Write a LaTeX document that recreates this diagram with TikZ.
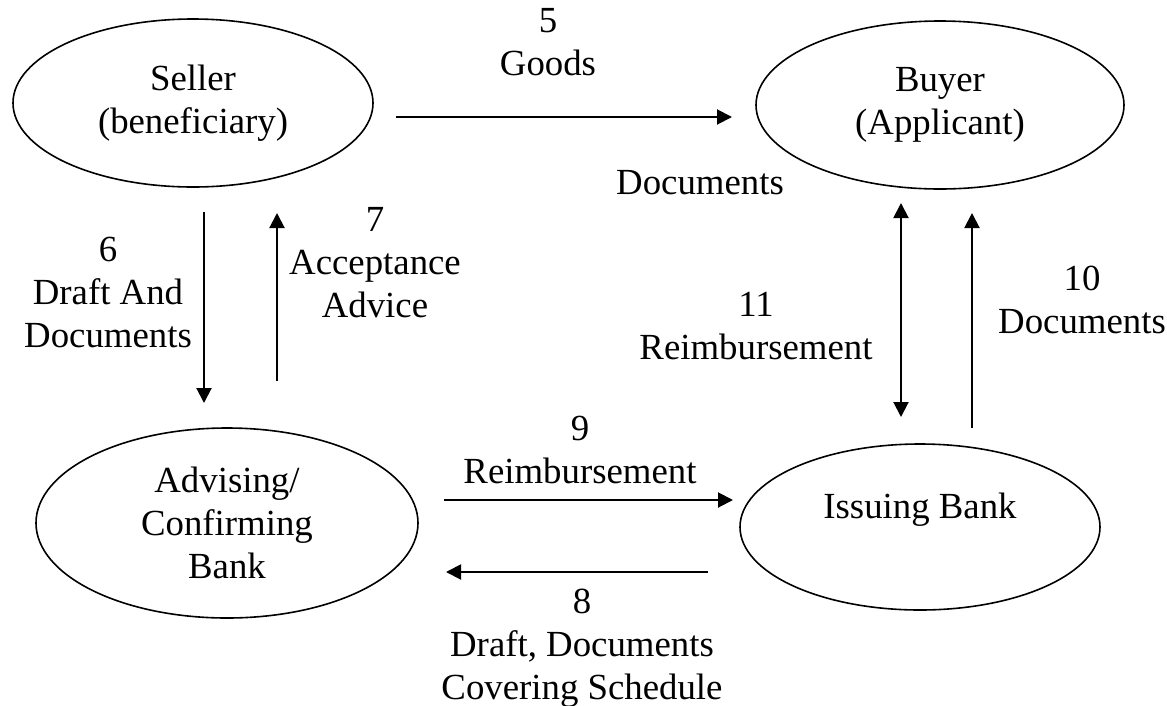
\documentclass[tikz,border=0pt]{standalone}
\usepackage{fontspec}
\setmainfont{Liberation Serif}
\usetikzlibrary{shapes.geometric,arrows.meta}

\begin{document}
\begin{tikzpicture}[x=1pt,y=-1pt,
				every node/.style={font=\fontsize{36.8}{43}\selectfont,align=center},
				party/.style={ellipse,draw,line width=1.6pt,inner sep=0pt},
				flow/.style={line width=2pt},
				>={Triangle[length=15pt,width=15pt]}]

			\useasboundingbox (0,0) rectangle (1167,705);

			\node[party,minimum width=360pt,minimum height=168pt] (seller) at (193,103) {Seller\\(beneficiary)};
			\node[party,minimum width=368pt,minimum height=168pt] (buyer) at (940,105) {Buyer\\(Applicant)};
			\node[party,minimum width=382pt,minimum height=190pt] (advising) at (227,523) {Advising/\\Confirming\\Bank};
			\node[party,minimum width=360pt,minimum height=166pt] (issuing) at (920,527) {Issuing Bank\\~};

			\coordinate (g1) at (396,117);
			\coordinate (g2) at (732,117);
			\coordinate (d6a) at (204,212);
			\coordinate (d6b) at (204,403);
			\coordinate (a7a) at (277,381);
			\coordinate (a7b) at (277,213);
			\coordinate (r11a) at (901,203);
			\coordinate (r11b) at (901,417);
			\coordinate (d10a) at (972,428);
			\coordinate (d10b) at (972,213);
			\coordinate (r9a) at (444,500);
			\coordinate (r9b) at (733,500);
			\coordinate (d8a) at (708,572);
			\coordinate (d8b) at (446,572);

			\draw[flow,->] (g1) -- (g2);
			\draw[flow,->] (d6a) -- (d6b);
			\draw[flow,->] (a7a) -- (a7b);
			\draw[flow,<->] (r11a) -- (r11b);
			\draw[flow,->] (d10a) -- (d10b);
			\draw[flow,->] (r9a) -- (r9b);
			\draw[flow,->] (d8a) -- (d8b);

			\node (l5) at (548,42) {5\\Goods};
			\node (ldocs) at (700,183) {Documents};
			\node (l6) at (108,292) {6\\Draft And\\Documents};
			\node (l7) at (375,263) {7\\Acceptance\\Advice};
			\node (l11) at (756,326) {11\\Reimbursement};
			\node (l10) at (1082,300) {10\\Documents};
			\node (l9) at (580,450) {9\\Reimbursement};
			\node (l8) at (582,648) {8\\Draft, Documents\\Covering Schedule};

		\end{tikzpicture}
\end{document}
